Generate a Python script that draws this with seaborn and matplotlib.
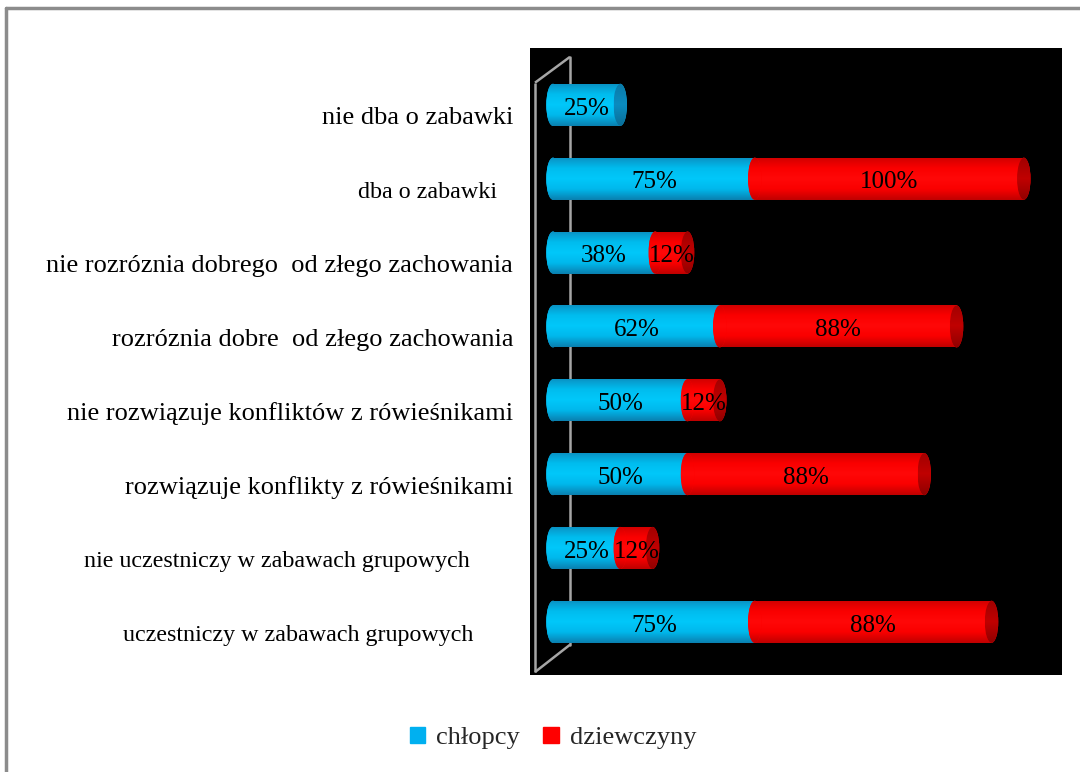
import numpy as np
import pandas as pd
import matplotlib
matplotlib.use("Agg")
import matplotlib.pyplot as plt
from matplotlib.patches import Ellipse, Patch
from matplotlib.lines import Line2D
import matplotlib.transforms as mtransforms
import seaborn as sns

# --- data ---
categories = [
    "nie dba o zabawki",
    "dba o zabawki",
    "nie rozróznia dobrego  od złego zachowania",
    "rozróznia dobre  od złego zachowania",
    "nie rozwiązuje konfliktów z rówieśnikami",
    "rozwiązuje konflikty z rówieśnikami",
    "nie uczestniczy w zabawach grupowych",
    "uczestniczy w zabawach grupowych",
]
chlopcy = [25, 75, 38, 62, 50, 50, 25, 75]
dziewczyny = [0, 100, 12, 88, 12, 88, 12, 88]
label_sizes = [19, 17.3, 19, 19, 19, 19, 17.3, 17.3]
label_right = [513, 497, 513, 513, 513, 513, 470, 473]  # right edge of label, px
series_names = ["chłopcy", "dziewczyny"]

BLUE = "#00b0f0"
RED = "#ff0000"

df = pd.DataFrame({"kat": categories, "chlopcy": chlopcy, "dziewczyny": dziewczyny})
df["razem"] = df["chlopcy"] + df["dziewczyny"]

sns.set_style("white")
plt.rcParams["font.family"] = ["Liberation Serif", "DejaVu Serif"]

fig = plt.figure(figsize=(10.8, 7.72), dpi=100)
AX_L, AX_W = 530, 532
ax = fig.add_axes([AX_L / 1080, 1 - 675 / 772, AX_W / 1080, 627 / 772])
ax.set_facecolor("black")

BAR_H = 0.57
sns.barplot(data=df, x="razem", y="kat", color=RED, orient="h", width=BAR_H,
            saturation=1, ax=ax, zorder=2, linewidth=0)
n_red = len(ax.patches)
sns.barplot(data=df, x="chlopcy", y="kat", color=BLUE, orient="h", width=BAR_H,
            saturation=1, ax=ax, zorder=3, linewidth=0)
red_bars = ax.patches[:n_red]
blue_bars = ax.patches[n_red:]


def gradient(cols, n=64):
    cm = matplotlib.colors.LinearSegmentedColormap.from_list("g", cols)
    return cm(np.linspace(0, 1, n))[:, None, :]


BLUE_GRAD = ["#0a80b0", "#00b8ec", "#00c8fa", "#00bcee", "#0a90c2"]
RED_GRAD = ["#c00000", "#fa0000", "#ff0808", "#fa0000", "#d00000"]
BLUE_CAP = ["#0a6e98", "#0a8cc0", "#0a7aa8"]
RED_CAP = ["#900000", "#c00000", "#a00000"]


def shade(patch, cols, z):
    ext = patch.get_extents().transformed(ax.transData.inverted())
    im = ax.imshow(gradient(cols), extent=(ext.x0, ext.x1, ext.y0, ext.y1),
                   origin="lower", aspect="auto", zorder=z, interpolation="bilinear")
    im.set_clip_path(patch)


XMIN, XMAX = -8.55, 189.2
ax.set_xlim(XMIN, XMAX)
ax.set_ylim(7.72, -0.77)
fig.canvas.draw()
CAP_W = 5.0
for rb, bb, b, g in zip(red_bars, blue_bars, chlopcy, dziewczyny):
    y = bb.get_y() + bb.get_height() / 2
    shade(bb, BLUE_GRAD, 3.5)
    left = Ellipse((0, y), CAP_W, BAR_H, color=BLUE, zorder=3, lw=0)
    ax.add_patch(left)
    shade(left, BLUE_GRAD, 3.5)
    if g > 0:
        shade(rb, RED_GRAD, 2.5)
        mid = Ellipse((b, y), CAP_W, BAR_H, color=RED, zorder=4, lw=0)
        ax.add_patch(mid)
        shade(mid, RED_GRAD, 4.5)
        cap = Ellipse((b + g, y), CAP_W, BAR_H, color=RED, zorder=5, lw=0)
        ax.add_patch(cap)
        shade(cap, RED_CAP, 5.5)
    else:
        rb.set_visible(False)
        cap = Ellipse((b, y), CAP_W, BAR_H, color=BLUE, zorder=5, lw=0)
        ax.add_patch(cap)
        shade(cap, BLUE_CAP, 5.5)
    ax.text(b / 2, y + 0.05, f"{b}%", ha="center", va="center", fontsize=18,
            color="black", zorder=7)
    if g > 0:
        ax.text(b + g / 2, y + 0.05, f"{g}%", ha="center", va="center",
                fontsize=18, color="black", zorder=7)

# the grey "wall" of the 3D chart
px = AX_W / (XMAX - XMIN)
wx0 = (535 - AX_L) / px + XMIN
wx1 = (570 - AX_L) / px + XMIN
wall = dict(color="#a6a6a6", lw=1.8, zorder=1.5, solid_capstyle="butt")
ax.plot([wx0, wx0], [-0.30, 7.68], **wall)
ax.plot([wx0, wx1], [-0.30, -0.65], **wall)
ax.plot([wx1, wx1], [-0.65, 7.31], color="#a6a6a6", lw=1.8, zorder=1)
ax.plot([wx0, wx1], [7.68, 7.31], **wall)

ax.set_xlim(XMIN, XMAX)
ax.set_ylim(7.72, -0.77)
ax.set_xticks([])
ax.set_yticks([])
ax.set_xlabel("")
ax.set_ylabel("")
for s in ax.spines.values():
    s.set_visible(False)

# category labels (sit slightly below the bar centres, as in the original)
trans = mtransforms.blended_transform_factory(ax.transAxes, ax.transData)
for i, (lab, fs, xr) in enumerate(zip(categories, label_sizes, label_right)):
    ax.text((xr - AX_L) / AX_W, i + 0.18, lab, transform=trans, ha="right",
            va="center", fontsize=fs, color="black")

# outer frame (top and left visible)
fig.add_artist(Line2D([6 / 1080, 1.0], [1 - 8 / 772, 1 - 8 / 772], color="#8c8c8c", lw=2.5))
fig.add_artist(Line2D([6 / 1080, 6 / 1080], [0.0, 1 - 8 / 772], color="#8c8c8c", lw=2.5))

handles = [Patch(color=BLUE), Patch(color=RED)]
fig.legend(handles, series_names, loc="center", bbox_to_anchor=(0.512, 0.044),
           ncol=2, frameon=False, fontsize=19, handlelength=0.6, handleheight=0.6,
           handletextpad=0.4, columnspacing=0.9)

fig.savefig("out.png", dpi=100)
